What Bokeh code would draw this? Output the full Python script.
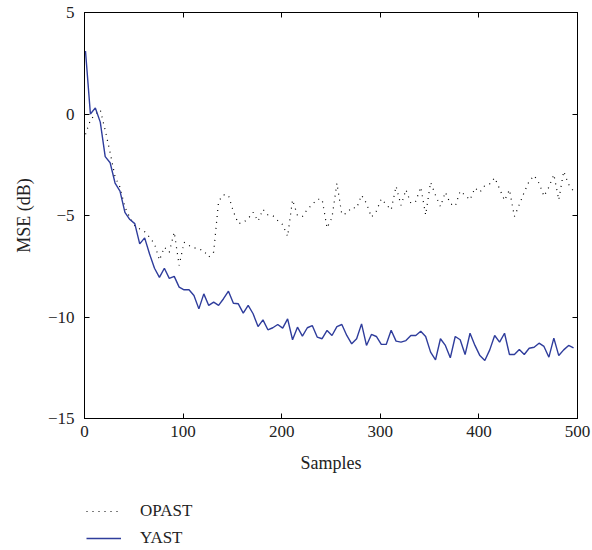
from bokeh.plotting import figure
from bokeh.models import Legend, LegendItem, LinearAxis, Range1d, FixedTicker
from bokeh.layouts import column
from bokeh.embed import file_html
from bokeh.resources import INLINE

samples = list(range(1, 500, 5))

yast = [3.1, 0.0, 0.3, -0.4, -2.1, -2.4, -3.4, -3.8, -4.85, -5.2,
        -5.4, -6.4, -6.1, -6.9, -7.6, -8.05, -7.6, -8.1, -8.0, -8.53,
        -8.66, -8.66, -8.94, -9.6, -8.86, -9.43, -9.27, -9.43, -9.1, -8.73,
        -9.32, -9.35, -9.81, -9.43, -9.84, -10.47, -10.14, -10.63, -10.53, -10.37,
        -10.55, -10.09, -11.12, -10.5, -10.94, -10.53, -10.42, -10.99, -11.07, -10.66,
        -10.91, -10.47, -10.37, -10.91, -11.32, -11.07, -10.34, -11.4, -10.86, -10.96,
        -11.35, -11.35, -10.65, -11.19, -11.24, -11.16, -10.91, -10.91, -10.7, -10.96,
        -11.73, -12.11, -11.07, -11.4, -12.01, -10.96, -11.12, -11.85, -10.8, -11.4,
        -11.9, -12.14, -11.62, -10.91, -11.24, -10.8, -11.85, -11.85, -11.6, -11.85,
        -11.54, -11.49, -11.29, -11.45, -11.98, -11.04, -11.9, -11.62, -11.4, -11.52]

opast = [-1.0, -0.3, 0.0, 0.2, -0.8, -1.9, -3.1, -3.6, -4.6, -5.1,
         -5.5, -5.66, -5.8, -6.07, -6.4, -7.2, -6.56, -6.81, -5.82, -7.46,
         -6.32, -6.48, -6.59, -6.64, -6.75, -7.05, -6.8, -4.3, -3.98, -4.0,
         -4.8, -5.4, -5.35, -5.15, -4.84, -5.28, -4.7, -4.97, -5.0, -5.25,
         -5.45, -6.03, -4.23, -5.0, -5.05, -4.7, -4.46, -4.2, -4.2, -5.62,
         -5.1, -3.41, -4.95, -4.89, -4.6, -4.64, -4.0, -4.4, -5.08, -4.79,
         -4.18, -4.46, -4.72, -3.56, -4.5, -3.73, -4.4, -4.3, -3.6, -4.97,
         -3.36, -4.0, -4.56, -3.85, -4.42, -4.54, -3.8, -4.0, -4.23, -3.64,
         -3.85, -3.52, -3.44, -3.14, -3.69, -4.26, -3.73, -5.05, -4.46, -3.85,
         -3.31, -3.03, -3.41, -4.05, -3.6, -2.98, -4.23, -2.82, -3.47, -3.8]

series_names = ["OPAST", "YAST"]
x_ticks = [0, 100, 200, 300, 400, 500]
y_ticks = [-15, -10, -5, 0, 5]
y_tick_labels = {-15: "\u221215", -10: "\u221210", -5: "\u22125", 0: "0", 5: "5"}

FONT = "Liberation Serif"
BLUE = "#2f3d9c"
OPAST_STYLE = dict(line_color="black", line_width=1.2, line_dash="1 5")
YAST_STYLE = dict(line_color=BLUE, line_width=1.4)

p = figure(output_backend="svg", toolbar_location=None,
           x_range=Range1d(0, 500), y_range=Range1d(-15, 5),
           frame_width=493, frame_height=406,
           min_border_left=84, min_border_top=12, min_border_right=15, min_border_bottom=62)

p.xgrid.visible = False
p.ygrid.visible = False
p.outline_line_color = "black"
p.outline_line_width = 1

p.line(samples, opast, **OPAST_STYLE)
p.line(samples, yast, **YAST_STYLE)

for ax in p.xaxis + p.yaxis:
    ax.major_tick_in = 5
    ax.major_tick_out = 0
    ax.minor_tick_in = 0
    ax.minor_tick_out = 0
    ax.axis_line_color = "black"
    ax.major_tick_line_color = "black"
    ax.major_label_text_font = FONT
    ax.major_label_text_font_size = "17px"
    ax.major_label_text_color = "#222222"
    ax.axis_label_text_font = FONT
    ax.axis_label_text_font_size = "18px"
    ax.axis_label_text_font_style = "normal"
    ax.axis_label_text_color = "#222222"

p.xaxis.ticker = FixedTicker(ticks=x_ticks)
p.yaxis.ticker = FixedTicker(ticks=y_ticks)
p.yaxis.major_label_overrides = y_tick_labels
p.xaxis.axis_label = "Samples"
p.yaxis.axis_label = "MSE (dB)"
p.xaxis.major_label_standoff = 7
p.yaxis.major_label_standoff = 10
p.xaxis.axis_label_standoff = 13
p.yaxis.axis_label_standoff = 11

top = LinearAxis(ticker=FixedTicker(ticks=x_ticks), major_tick_in=5, major_tick_out=0,
                 minor_tick_in=0, minor_tick_out=0,
                 major_label_overrides={t: "" for t in x_ticks},
                 major_label_standoff=0)
right = LinearAxis(ticker=FixedTicker(ticks=y_ticks), major_tick_in=5, major_tick_out=0,
                   minor_tick_in=0, minor_tick_out=0,
                   major_label_overrides={t: "" for t in y_ticks},
                   major_label_standoff=0)
p.add_layout(top, "above")
p.add_layout(right, "right")

# Legend strip below the chart (its own frame so the legend is not clipped)
p2 = figure(output_backend="svg", toolbar_location=None,
            x_axis_location=None, y_axis_location=None,
            x_range=Range1d(0, 500), y_range=Range1d(100, 101),
            frame_width=493, frame_height=70,
            min_border_left=84, min_border_right=15, min_border_top=0, min_border_bottom=0)
p2.xgrid.visible = False
p2.ygrid.visible = False
p2.outline_line_color = None
r1 = p2.line(samples, opast, **OPAST_STYLE)
r2 = p2.line(samples, yast, **YAST_STYLE)

legend = Legend(items=[LegendItem(label=series_names[0], renderers=[r1]),
                       LegendItem(label=series_names[1], renderers=[r2])],
                location=(2, 2), orientation="vertical",
                glyph_width=35, glyph_height=20, label_height=20,
                label_standoff=19, spacing=7, padding=2, margin=0,
                border_line_color=None, background_fill_alpha=0,
                label_text_font=FONT, label_text_font_size="17px",
                label_text_color="#222222")
p2.add_layout(legend, "center")

open("out.html", "w").write(file_html(column(p, p2, spacing=0), INLINE))
